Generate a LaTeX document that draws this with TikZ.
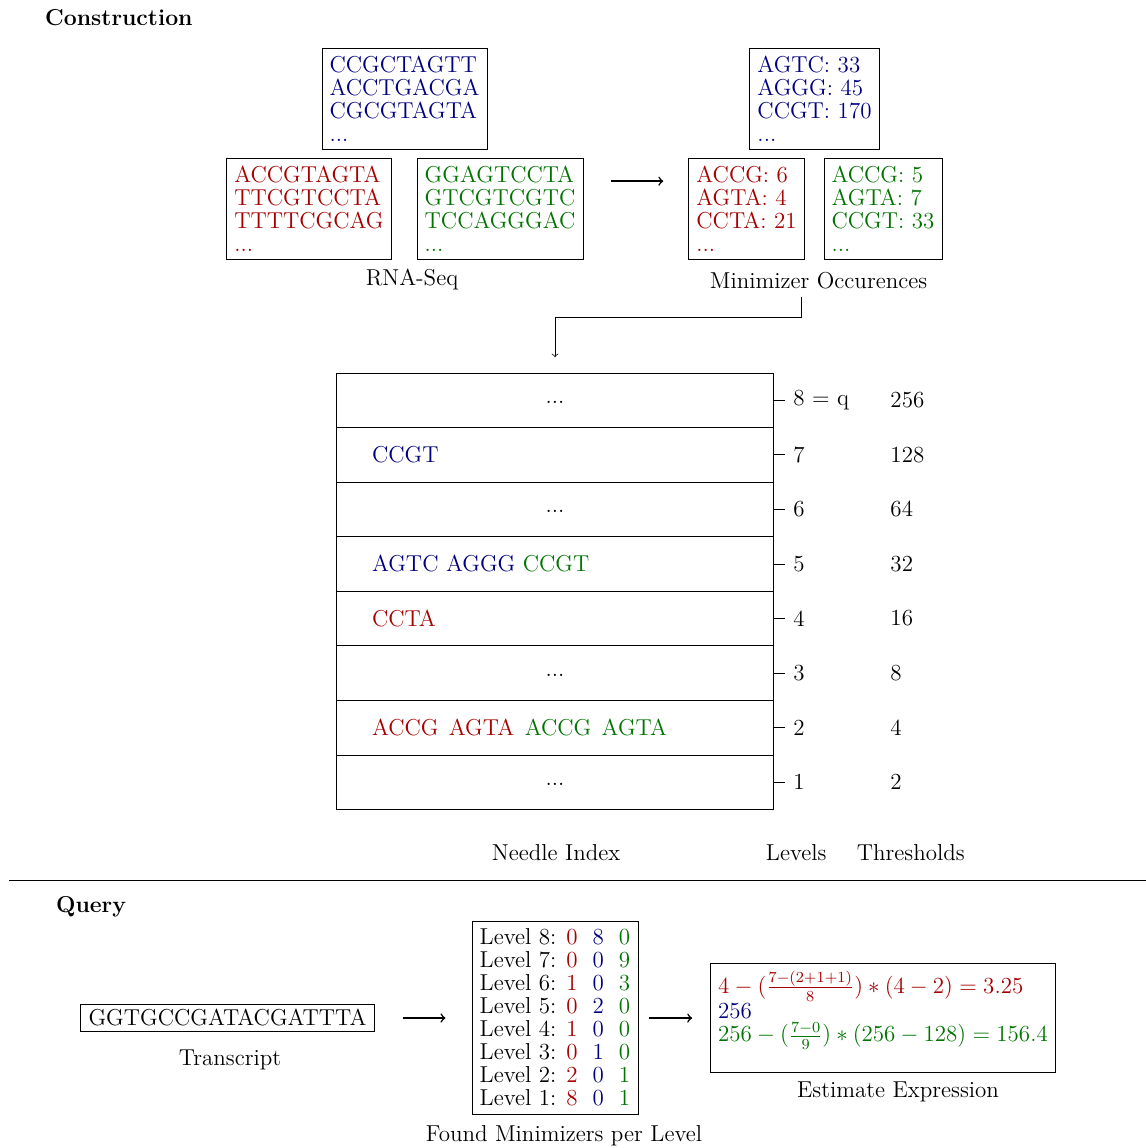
\documentclass[12pt,tikz,border=0pt]{standalone}
\usepackage{xcolor}
\usepackage{amsmath}
\usepackage{tikz}
\usetikzlibrary{positioning}
\definecolor{seqblue}{RGB}{0,0,128}
\definecolor{seqred}{RGB}{166,0,0}
\definecolor{seqgreen}{RGB}{0,115,0}
\newcommand{\cred}[1]{\textcolor{seqred}{#1}}
\newcommand{\cblue}[1]{\textcolor{seqblue}{#1}}
\newcommand{\cgreen}[1]{\textcolor{seqgreen}{#1}}
\tikzset{
  seqbox/.style={draw, align=left, font=\fontsize{12}{12}\selectfont},
  idxrow/.style={draw, minimum width=8cm, minimum height=1cm, outer sep=0pt},
  heading/.style={anchor=west, font=\bfseries},
  dotsnode/.style={yshift=-1.2pt},
  arrow/.style={->, thick},
  link/.style={->}
}

\begin{document}
\begin{tikzpicture}
  \useasboundingbox (0,0) rectangle (21,-21.037);
  \node[heading] (construction) at (0.68,-0.33) {Construction};
  % RNA-Seq samples
  \node[seqbox, text=seqblue] (rnablue) at (7.413,-1.814) {CCGCTAGTT\\ACCTGACGA\\CGCGTAGTA\\...};
  \node[seqbox, text=seqred] (rnared) at (5.662,-3.830) {ACCGTAGTA\\TTCGTCCTA\\TTTTCGCAG\\...};
  \node[seqbox, text=seqgreen] (rnagreen) at (9.163,-3.830) {GGAGTCCTA\\GTCGTCGTC\\TCCAGGGAC\\...};
  \node (rnacap) at (7.55,-5.113) {RNA-Seq};
  % minimizer counts
  \node[seqbox, text=seqblue] (minblue) at (14.926,-1.814) {AGTC: 33\\AGGG: 45\\CCGT: 170\\...};
  \node[seqbox, text=seqred] (minred) at (13.680,-3.830) {ACCG: 6\\AGTA: 4\\CCTA: 21\\...};
  \node[seqbox, text=seqgreen] (mingreen) at (16.181,-3.830) {ACCG: 5\\AGTA: 7\\CCGT: 33\\...};
  \node (mincap) at (15.0,-5.149) {Minimizer Occurences};
  \draw[arrow] ([shift={(5.1mm,5.1mm)}]rnagreen.east) -- ([shift={(-4.6mm,5.1mm)}]minred.west);
  % needle index
  \foreach \k in {1,...,8}
    \node[idxrow] (row\k) at (10.17,{-14.335+(\k-1)}) {};
  \foreach \k/\lab/\thr in {8/8 $=$ q/256, 7/7/128, 6/6/64, 5/5/32, 4/4/16, 3/3/8, 2/2/4, 1/1/2} {
    \draw (row\k.east) -- ++(0.22,0) node[anchor=west] (lvl\k) {\lab};
    \node[anchor=west] (thr\k) at ([xshift=2cm]row\k.east) {\thr};
  }
  \node[dotsnode] (dots8) at (row8) {...};
  \node[anchor=west] (mins7) at ([xshift=5mm]row7.west) {\cblue{CCGT}};
  \node[dotsnode] (dots6) at (row6) {...};
  \node[anchor=west] (mins5) at ([xshift=5mm]row5.west) {\cblue{AGTC AGGG} \cgreen{CCGT}};
  \node[anchor=west] (mins4) at ([xshift=5mm]row4.west) {\cred{CCTA}};
  \node[dotsnode] (dots3) at (row3) {...};
  \node[anchor=west] (mins2) at ([xshift=5mm]row2.west) {\cred{ACCG\hspace{5.4pt}AGTA}\hspace{5.6pt}\cgreen{ACCG\hspace{5.4pt}AGTA}};
  \node[dotsnode] (dots1) at (row1) {...};
  \draw[link] ([xshift=-3.2mm]mincap.south) -- ++(0,-0.37) -| ([yshift=2.9mm]row8.north);
  \node (idxcap) at (10.19,-15.63) {Needle Index};
  \node (lvlcap) at (14.59,-15.63) {Levels};
  \node (thrcap) at (16.69,-15.63) {Thresholds};

  \draw (0.165,-16.14) -- (21,-16.14);

  \node[heading] (query) at (0.88,-16.62) {Query};
  \node[draw, inner ysep=2.5pt] (transcript) at (4.169,-18.655) {GGTGCCGATACGATTTA};
  \node (trcap) at (4.215,-19.42) {Transcript};
  \node[seqbox] (levels) at (10.17,-18.646) {Level 8: \cred{0}~~\cblue{8}~~\cgreen{0}\\
    Level 7: \cred{0}~~\cblue{0}~~\cgreen{9}\\
    Level 6: \cred{1}~~\cblue{0}~~\cgreen{3}\\
    Level 5: \cred{0}~~\cblue{2}~~\cgreen{0}\\
    Level 4: \cred{1}~~\cblue{0}~~\cgreen{0}\\
    Level 3: \cred{0}~~\cblue{1}~~\cgreen{0}\\
    Level 2: \cred{2}~~\cblue{0}~~\cgreen{1}\\
    Level 1: \cred{8}~~\cblue{0}~~\cgreen{1}};
  \node (lvcap) at (10.335,-20.817) {Found Minimizers per Level};
  \node[seqbox] (estimate) at (16.181,-18.655) {\cred{$4-(\frac{7-(2+1+1)}{8})*(4-2)=3.25$}\\
    \cblue{256}\\
    \cgreen{$256-(\frac{7-0}{9})*(256-128)=156.4$}\\ \mbox{}};
  \node (estcap) at (16.456,-20.011) {Estimate Expression};
  \draw[arrow] ([xshift=5.3mm]transcript.east) -- ([xshift=-4.8mm]transcript.east -| levels.west);
  \draw[arrow] ([xshift=2mm]levels.east |- transcript.east) -- ([xshift=-3.3mm]transcript.east -| estimate.west);
\end{tikzpicture}
\end{document}
